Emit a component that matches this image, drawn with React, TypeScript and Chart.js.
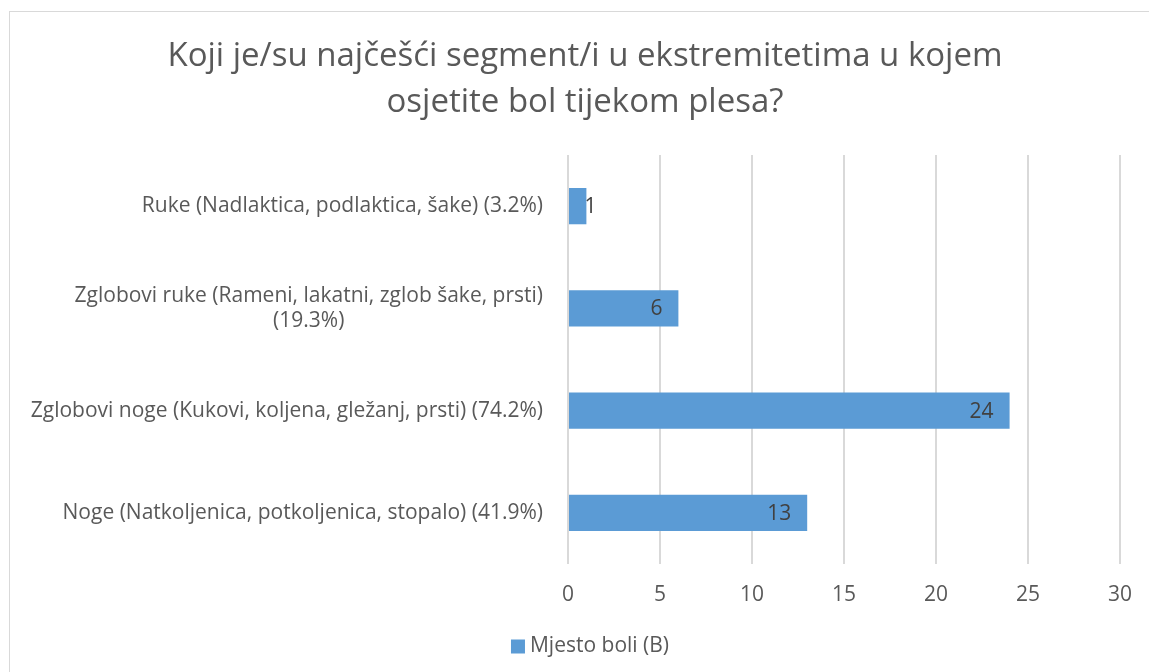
import React, { useEffect, useRef } from "react";
import { Chart, registerables } from "chart.js";

Chart.register(...registerables);

const titleLines = [
  "Koji je/su najčešći segment/i u ekstremitetima u kojem",
  "osjetite bol tijekom plesa?",
];
const categories: (string | string[])[] = [
  "Ruke (Nadlaktica, podlaktica, šake) (3.2%)",
  ["Zglobovi ruke (Rameni, lakatni, zglob šake, prsti)", "(19.3%)"],
  "Zglobovi noge (Kukovi, koljena, gležanj, prsti) (74.2%)",
  "Noge (Natkoljenica, potkoljenica, stopalo) (41.9%)",
];
const seriesName = "Mjesto boli (B)";
const values = [1, 6, 24, 13];
const xTicks = { min: 0, max: 30, step: 5 };

const FONT = "'Open Sans', sans-serif";
const TEXT = "#595959";
const BAR = "#5b9bd5";
const GRID = "#d9d9d9";
const FS = 21;
const CLEAR = "rgba(0,0,0,0)";

const yLabelPlugin = {
  id: "yLabelPlugin",
  afterDraw(chart: any) {
    const ctx = chart.ctx;
    const y = chart.scales.y;
    const right = chart.chartArea.left - 25;
    ctx.save();
    ctx.font = `${FS}px ${FONT}`;
    ctx.fillStyle = TEXT;
    ctx.textAlign = "center";
    ctx.textBaseline = "middle";
    const lh = 25;
    categories.forEach((lab, i) => {
      const lines = Array.isArray(lab) ? lab : [lab];
      const maxW = Math.max(...lines.map((l) => ctx.measureText(l).width));
      const cx = right - maxW / 2;
      const cy = y.getPixelForTick(i);
      const start = cy - ((lines.length - 1) * lh) / 2;
      lines.forEach((l, k) => ctx.fillText(l, cx, start + k * lh));
    });
    ctx.restore();
  },
};

const legendPlugin = {
  id: "legendPlugin",
  afterDraw(chart: any) {
    const lg = chart.legend;
    if (!lg || !lg.legendHitBoxes || !lg.legendHitBoxes.length) return;
    const hb = lg.legendHitBoxes[0];
    const ctx = chart.ctx;
    ctx.save();
    ctx.font = `${FS}px ${FONT}`;
    const tw = ctx.measureText(seriesName).width;
    const box = 14;
    const gap = 5;
    const total = box + gap + tw;
    const cx = (lg.left + lg.right) / 2 + 5;
    const x0 = cx - total / 2;
    const cy = hb.top + hb.height / 2;
    ctx.fillStyle = BAR;
    ctx.fillRect(x0, cy - box / 2, box, box);
    ctx.fillStyle = TEXT;
    ctx.textAlign = "left";
    ctx.textBaseline = "middle";
    ctx.fillText(seriesName, x0 + box + gap, cy);
    ctx.restore();
  },
};

const dataLabelPlugin = {
  id: "dataLabelPlugin",
  afterDatasetsDraw(chart: any) {
    const ctx = chart.ctx;
    const meta = chart.getDatasetMeta(0);
    ctx.save();
    ctx.font = `${FS}px ${FONT}`;
    ctx.fillStyle = "#404040";
    ctx.textBaseline = "middle";
    meta.data.forEach((el: any, i: number) => {
      const txt = String(values[i]);
      const w = ctx.measureText(txt).width;
      const barW = el.x - el.base;
      if (barW > w + 24) {
        ctx.textAlign = "right";
        ctx.fillText(txt, el.x - 16, el.y + 1);
      } else {
        ctx.textAlign = "left";
        ctx.fillText(txt, el.x - 2, el.y + 1);
      }
    });
    ctx.restore();
  },
};

export default function App() {
  const ref = useRef<HTMLCanvasElement>(null);
  useEffect(() => {
    document.body.style.overflow = "hidden";
    const chart = new Chart(ref.current!, {
      type: "bar",
      data: {
        labels: categories as any,
        datasets: [
          {
            label: seriesName,
            data: values,
            backgroundColor: BAR,
            borderWidth: 0,
            barPercentage: 0.355,
            categoryPercentage: 1,
          },
        ],
      },
      options: {
        indexAxis: "y",
        animation: false,
        responsive: false,
        maintainAspectRatio: false,
        layout: { padding: { left: 39, right: 29, top: 10, bottom: 5 } },
        scales: {
          x: {
            min: xTicks.min,
            max: xTicks.max,
            ticks: {
              stepSize: xTicks.step,
              color: TEXT,
              font: { family: FONT, size: FS },
              padding: 18,
            },
            grid: { color: GRID, lineWidth: 2, drawTicks: false },
            border: { display: false },
            afterFit: (s: any) => {
              s.height = 62;
            },
          },
          y: {
            ticks: { display: false },
            grid: { display: false },
            border: { display: false },
            afterFit: (s: any) => {
              s.width = 519;
            },
          },
        },
        plugins: {
          title: {
            display: true,
            text: titleLines,
            color: TEXT,
            font: { family: FONT, size: 33, weight: "normal", lineHeight: 46 / 33 },
            padding: { top: 12, bottom: 29 },
          },
          legend: {
            position: "bottom",
            labels: {
              color: CLEAR,
              font: { family: FONT, size: FS },
              boxWidth: 14,
              boxHeight: 14,
              generateLabels: () => [
                {
                  text: seriesName,
                  fillStyle: CLEAR,
                  strokeStyle: CLEAR,
                  fontColor: CLEAR,
                  lineWidth: 0,
                  hidden: false,
                  datasetIndex: 0,
                } as any,
              ],
            },
          },
          tooltip: { enabled: false },
        },
      },
      plugins: [yLabelPlugin, dataLabelPlugin, legendPlugin],
    });
    return () => chart.destroy();
  }, []);
  return (
    <div
      style={{
        position: "fixed",
        left: 9,
        top: 11,
        width: 1160,
        height: 680,
        border: "1px solid #d9d9d9",
        background: "#fff",
      }}
    >
      <canvas ref={ref} width={1140} height={660} style={{ display: "block" }} />
    </div>
  );
}
